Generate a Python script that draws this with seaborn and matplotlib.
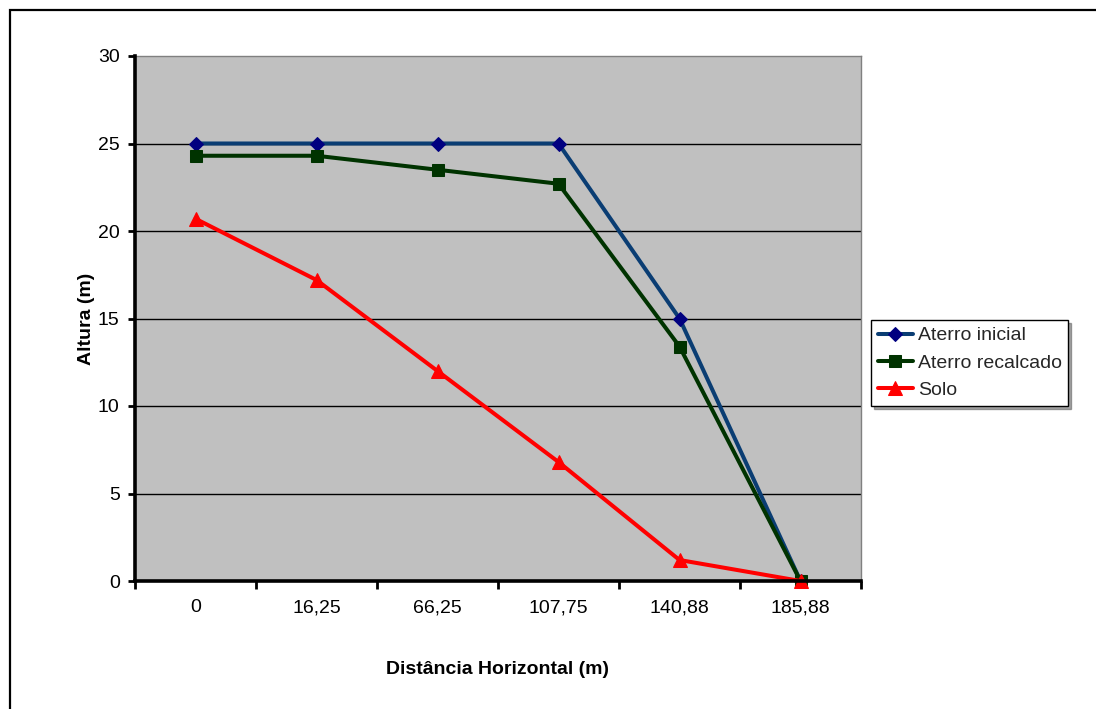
import matplotlib
matplotlib.use("Agg")
import matplotlib.pyplot as plt
import seaborn as sns
import pandas as pd
from matplotlib.patches import Rectangle

# Distâncias horizontais (rótulos das categorias)
distancias = ["0", "16,25", "66,25", "107,75", "140,88", "185,88"]

# Alturas (m) de cada perfil
aterro_inicial = [25, 25, 25, 25, 15, 0]
aterro_recalcado = [24.3, 24.3, 23.5, 22.7, 13.4, 0]
solo = [20.7, 17.2, 12.0, 6.8, 1.2, 0]

series_nomes = ["Aterro inicial", "Aterro recalcado", "Solo"]
series_valores = [aterro_inicial, aterro_recalcado, solo]

df = pd.DataFrame(
    [
        {"Distância": d, "Altura": v, "Série": nome}
        for nome, vals in zip(series_nomes, series_valores)
        for d, v in zip(distancias, vals)
    ]
)

sns.set_theme(style="white")
plt.rcParams["font.family"] = ["Liberation Sans", "DejaVu Sans"]

FS = 14

fig = plt.figure(figsize=(10.96, 7.09), dpi=100)
ax = fig.add_axes([135 / 1096, 1 - 581 / 709, 726 / 1096, 525 / 709])
ax.set_facecolor("#C0C0C0")

# Moldura externa do gráfico
fig.patches.append(
    Rectangle((10 / 1096, -0.05), 1.2, 1 - 10 / 709 + 0.05,
              transform=fig.transFigure, fill=False,
              edgecolor="black", linewidth=1.6, zorder=0)
)

# Linhas de grade horizontais
for yv in [5, 10, 15, 20, 25]:
    ax.axhline(yv, color="black", linewidth=1.0, zorder=1)

cores_linha = {"Aterro inicial": "#0A3D73", "Aterro recalcado": "#003300", "Solo": "#FF0000"}
cores_marc = {"Aterro inicial": "#000080", "Aterro recalcado": "#003300", "Solo": "#FF0000"}
marcadores = {"Aterro inicial": "D", "Aterro recalcado": "s", "Solo": "^"}
tamanhos = {"Aterro inicial": 7.5, "Aterro recalcado": 9, "Solo": 9.5}

for nome in series_nomes:
    sub = df[df["Série"] == nome]
    sns.lineplot(
        data=sub, x="Distância", y="Altura", ax=ax,
        color=cores_linha[nome], linewidth=2.9, marker=marcadores[nome],
        markersize=tamanhos[nome], markerfacecolor=cores_marc[nome],
        markeredgecolor=cores_marc[nome], label=nome, zorder=3,
        sort=False, clip_on=False,
    )

ax.set_xlim(-0.5, len(distancias) - 0.5)
ax.set_ylim(0, 30)
ax.set_yticks(range(0, 31, 5))
ax.set_xticks(range(len(distancias)))
ax.set_xticklabels(distancias)
ax.set_xticks([i - 0.5 for i in range(len(distancias) + 1)], minor=True)

ax.tick_params(axis="x", which="major", length=0, pad=13, labelsize=FS, colors="black")
ax.tick_params(axis="x", which="minor", length=6, width=2, direction="out", color="black", bottom=True)
ax.tick_params(axis="y", which="major", length=5, width=2, direction="out", left=True,
               pad=6, labelsize=FS, colors="black")

for lado in ["left", "bottom"]:
    ax.spines[lado].set_color("black")
    ax.spines[lado].set_linewidth(2.6)
    ax.spines[lado].set_zorder(4)
for lado in ["top", "right"]:
    ax.spines[lado].set_color("#808080")
    ax.spines[lado].set_linewidth(1.0)

ax.set_xlabel("Distância Horizontal (m)", fontsize=FS, fontweight="bold", color="black")
ax.set_ylabel("Altura (m)", fontsize=FS, fontweight="bold", color="black")
ax.xaxis.set_label_coords(0.5, -0.152)
ax.yaxis.set_label_coords(-0.055, 0.5)

leg = ax.legend(
    loc="upper left", bbox_to_anchor=(871 / 1096, 1 - 320 / 709),
    bbox_transform=fig.transFigure, frameon=True, fancybox=False, shadow=True,
    fontsize=FS, handlelength=1.8, handletextpad=0.25, borderpad=0.35,
    labelspacing=0.5, borderaxespad=0,
)
leg.get_frame().set_edgecolor("black")
leg.get_frame().set_linewidth(1.0)
leg.get_frame().set_facecolor("white")
leg.get_frame().set_alpha(1)

fig.savefig("out.png", dpi=100)
